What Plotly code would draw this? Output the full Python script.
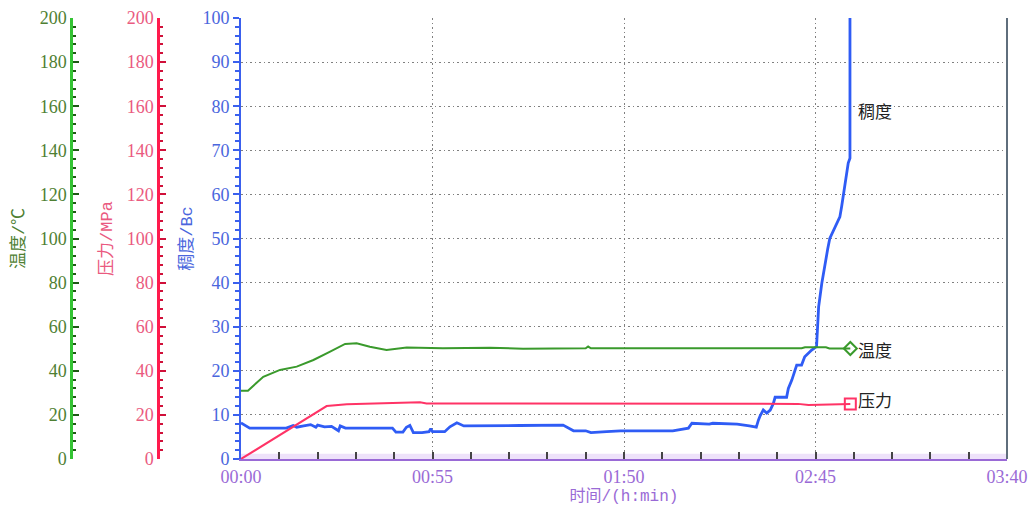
import plotly.graph_objects as go

# ---------------- data (time in minutes) ----------------
x_tickvals = [0, 55, 110, 165, 220]
x_ticktext = ["00:00", "00:55", "01:50", "02:45", "03:40"]

temp_t = [0, 2, 6.4, 11.2, 16, 20.8, 25.6, 29.9, 33.2, 37, 41.8, 44.7, 47.6, 58,
          71.5, 81, 99, 99.7, 100.5, 161, 162, 168, 169, 175]
temp_v = [31, 31, 37.3, 40.4, 41.9, 44.9, 48.7, 52.2, 52.5, 50.9, 49.4, 49.9, 50.6, 50.2,
          50.5, 50.0, 50.2, 51.0, 50.2, 50.2, 50.7, 50.7, 50.1, 50.1]

pres_t = [0, 16, 24.6, 30.4, 42.8, 51.4, 53.3, 137.5, 140.4, 160, 163, 168, 175]
pres_v = [0, 15.8, 24.0, 24.8, 25.3, 25.7, 25.2, 25.2, 25.0, 25.0, 24.5, 24.8, 24.9]

cons_t = [0, 1, 2.5, 8, 13, 15, 16, 18, 20, 21.5, 22, 24, 26, 28, 28.5, 30, 31.5, 36, 40,
          43.5, 44.5, 46.5, 47.5, 48.5, 49.5, 52, 54, 54.5, 55, 58.5, 60, 62, 64, 70, 80,
          92.5, 94, 95.5, 99, 100.5, 105, 109, 124, 126, 128.5, 129.5, 134.5, 135.5, 142.5,
          146, 148, 148.6, 149.1, 150, 151, 152, 152.9, 153.4, 156.7, 157.2, 158.2, 159.6,
          161, 161.9, 163.9, 165.3, 165.6, 165.9, 166.8, 167.7, 168.5, 169.1, 170.6, 172,
          172.5, 173.2, 173.7, 174.4, 174.9, 174.9]
cons_v = [8.2, 7.7, 7.0, 7.0, 7.0, 7.6, 7.2, 7.5, 7.8, 7.2, 7.7, 7.3, 7.4, 6.4, 7.5, 7.0, 7.0, 7.0, 7.0,
          7.0, 6.1, 6.1, 7.2, 7.6, 6.0, 6.0, 6.2, 6.9, 6.2, 6.2, 7.3, 8.2, 7.5, 7.5, 7.6,
          7.7, 7.0, 6.4, 6.4, 6.0, 6.2, 6.4, 6.4, 6.7, 7.0, 8.1, 7.9, 8.1, 7.9,
          7.5, 7.2, 8.8, 9.8, 11.1, 10.4, 11.1, 12.6, 14.0, 14.0, 16.0, 17.9, 21.3,
          21.3, 23.2, 24.7, 25.5, 29.2, 34.5, 39.8, 44.4, 47.6, 50.0, 52.7, 54.9,
          57.2, 61.0, 64.0, 67.1, 68.2, 100]

label_cons = "稠度"
label_temp = "温度"
label_pres = "压力"

# ---------------- styling ----------------
GREEN_LINE = "#3a9a2c"
GREEN_AX = "#33c433"
GREEN_TXT = "#4f7f33"
RED_LINE = "#ff3366"
RED_AX = "#ff1a4d"
RED_TXT = "#ea5a80"
BLUE_LINE = "#2f5cf5"
BLUE_AX = "#3a60ee"
BLUE_TXT = "#4a66dd"
PURPLE = "#9a6ad6"
FRAME = "#5f6e7c"
GRID = "#808080"
GRIDDASH = "1.5px,3px"
NUM_FONT = "Liberation Serif, Noto Sans CJK SC, serif"
TITLE_FONT = "Liberation Mono, Noto Sans CJK SC, monospace"
CJK_FONT = "Noto Sans CJK SC, Liberation Serif, sans-serif"

fig = go.Figure()

fig.add_trace(go.Scatter(x=temp_t, y=temp_v, yaxis="y3", mode="lines",
                         line=dict(color=GREEN_LINE, width=2), showlegend=False))
fig.add_trace(go.Scatter(x=[temp_t[-1]], y=[temp_v[-1]], yaxis="y3", mode="markers",
                         marker=dict(symbol="diamond-open", size=10, color=GREEN_LINE,
                                     line=dict(width=2)), showlegend=False))
fig.add_trace(go.Scatter(x=pres_t, y=pres_v, yaxis="y2", mode="lines",
                         line=dict(color=RED_LINE, width=2), showlegend=False))
fig.add_trace(go.Scatter(x=[pres_t[-1]], y=[pres_v[-1]], yaxis="y2", mode="markers",
                         marker=dict(symbol="square-open", size=11, color=RED_LINE,
                                     line=dict(width=2)), showlegend=False))
fig.add_trace(go.Scatter(x=cons_t, y=cons_v, yaxis="y", mode="lines",
                         line=dict(color=BLUE_LINE, width=2.8), showlegend=False))

x0d = 241 / 1032
x1d = 1007 / 1032

fig.update_layout(
    width=1032, height=510,
    margin=dict(l=0, r=0, t=18, b=51, autoexpand=False),
    paper_bgcolor="white", plot_bgcolor="white",
    xaxis=dict(
        domain=[x0d, x1d], range=[0, 220], automargin=False,
        tickvals=x_tickvals, ticktext=x_ticktext,
        showline=True, linecolor=PURPLE, linewidth=2,
        ticks="inside", ticklen=7, tickcolor="#444", tickwidth=1.5,
        minor=dict(dtick=11, tick0=0, ticks="inside", ticklen=7, tickcolor="#444",
                   tickwidth=1.5, showgrid=False),
        showgrid=True, gridcolor=GRID, griddash=GRIDDASH, gridwidth=1,
        zeroline=False,
        tickfont=dict(family=NUM_FONT, size=18, color=PURPLE),
        title=dict(text="时间/(h:min)", font=dict(family=TITLE_FONT, size=16, color=PURPLE),
                   standoff=2),
    ),
    xaxis2=dict(
        overlaying="x", side="top", anchor="y", range=[0, 220], automargin=False,
        showline=True, linecolor=FRAME, linewidth=2,
        tickvals=x_tickvals, ticks="inside", ticklen=4, tickcolor=FRAME,
        minor=dict(dtick=11, tick0=0, ticks="inside", ticklen=3, tickcolor=FRAME),
        showticklabels=False, showgrid=False, zeroline=False,
    ),
    yaxis=dict(
        range=[0, 100], dtick=10, anchor="x", side="left", automargin=False,
        showline=True, linecolor=BLUE_AX, linewidth=2,
        ticks="outside", ticklen=6, tickcolor=BLUE_AX, tickwidth=1.5,
        minor=dict(dtick=2, ticks="outside", ticklen=4, tickcolor=BLUE_AX, showgrid=False),
        showgrid=True, gridcolor=GRID, griddash=GRIDDASH, gridwidth=1,
        zeroline=False,
        tickfont=dict(family=NUM_FONT, size=18, color=BLUE_TXT),
        title=dict(text="稠度/Bc", font=dict(family=TITLE_FONT, size=17, color=BLUE_TXT),
                   standoff=5),
    ),
    yaxis4=dict(
        range=[0, 100], dtick=10, overlaying="y", anchor="x", side="left", automargin=False,
        showline=False, ticks="inside", ticklen=6, tickcolor=BLUE_AX, tickwidth=1.5,
        minor=dict(dtick=2, ticks="inside", ticklen=4, tickcolor=BLUE_AX, showgrid=False),
        showticklabels=False, showgrid=False, zeroline=False,
    ),
    yaxis2=dict(
        range=[0, 200], dtick=20, overlaying="y", anchor="free", side="left",
        position=158 / 1032, automargin=False,
        showline=True, linecolor=RED_AX, linewidth=2.5,
        ticks="inside", ticklen=6, tickcolor="#d0103a", tickwidth=1.5,
        minor=dict(dtick=4, ticks="inside", ticklen=3, tickcolor="#d0103a", showgrid=False),
        showgrid=False, zeroline=False,
        tickfont=dict(family=NUM_FONT, size=18, color=RED_TXT),
        title=dict(text="压力/MPa", font=dict(family=TITLE_FONT, size=17, color=RED_TXT),
                   standoff=8),
    ),
    yaxis3=dict(
        range=[0, 200], dtick=20, overlaying="y", anchor="free", side="left",
        position=71 / 1032, automargin=False,
        showline=True, linecolor=GREEN_AX, linewidth=2.5,
        ticks="inside", ticklen=6, tickcolor="#1e5a14", tickwidth=1.5,
        minor=dict(dtick=4, ticks="inside", ticklen=3, tickcolor="#1e5a14", showgrid=False),
        showgrid=False, zeroline=False,
        tickfont=dict(family=NUM_FONT, size=18, color=GREEN_TXT),
        title=dict(text="温度/℃", font=dict(family=TITLE_FONT, size=17, color=GREEN_TXT),
                   standoff=9),
    ),
    shapes=[
        dict(type="rect", xref="x", yref="y", x0=0, x1=220, y0=0, y1=1.2,
             fillcolor="#eee2fa", line=dict(width=0), layer="below"),
        dict(type="line", xref="x domain", yref="y domain", x0=1, x1=1, y0=0, y1=1,
             line=dict(color=FRAME, width=2)),
    ],
    annotations=[
        dict(x=176.5, y=79, xref="x", yref="y", text=label_cons, showarrow=False,
             xanchor="left", yanchor="middle",
             font=dict(family=CJK_FONT, size=17, color="#222")),
        dict(x=176.5, y=49.6, xref="x", yref="y3", text=label_temp, showarrow=False,
             xanchor="left", yanchor="middle",
             font=dict(family=CJK_FONT, size=17, color="#222")),
        dict(x=176.5, y=26.8, xref="x", yref="y2", text=label_pres, showarrow=False,
             xanchor="left", yanchor="middle",
             font=dict(family=CJK_FONT, size=17, color="#222")),
    ],
)

fig.write_html("out.html", config={"displayModeBar": False},
               post_script="document.body.style.margin='0';")
